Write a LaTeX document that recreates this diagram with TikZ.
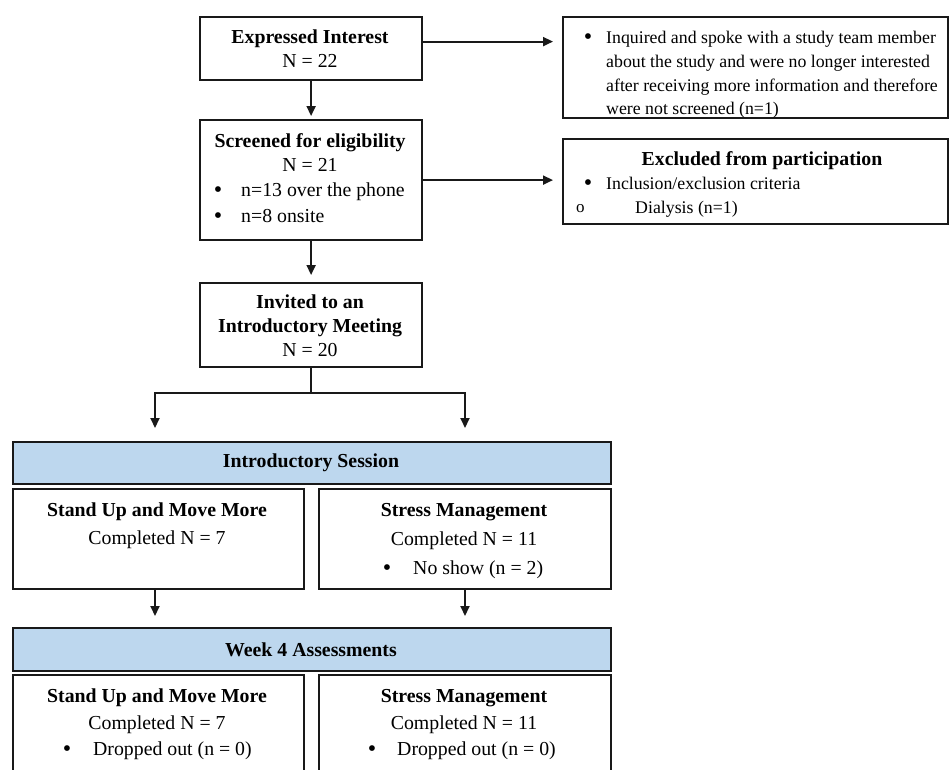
\documentclass[tikz,border=0pt]{standalone}
\usepackage{fontspec}
\setmainfont{Liberation Serif}
\usetikzlibrary{arrows.meta,calc}
\definecolor{bandblue}{RGB}{189,215,238}
\tikzset{
  box/.style={draw=black!90, line width=2.2pt, anchor=north west, inner sep=0pt},
  band/.style={box, fill=bandblue},
  txt/.style={anchor=base, inner sep=0pt, font=\fontsize{19.8}{23.8}\selectfont},
  txtw/.style={txt, anchor=base west},
  hd/.style={txt, font=\fontsize{19.8}{23.8}\selectfont\bfseries},
  dot/.style={txt, font=\fontsize{24}{24}\selectfont},
  note/.style={anchor=base west, inner sep=0pt, font=\fontsize{17.8}{21.4}\selectfont},
  link/.style={line width=1.9pt, draw=black!90},
  arr/.style={link, -{Triangle[length=10pt,width=9pt]}},
}
\begin{document}
\begin{tikzpicture}[x=1pt,y=-1pt]
\path[use as bounding box] (0,0) rectangle (950,769);
\clip (0,0) rectangle (950,769);
\node[box, minimum width=222pt, minimum height=63pt] (ei) at (199,16) {};
\node[box, minimum width=222pt, minimum height=120pt] (scr) at (199,119) {};
\node[box, minimum width=222pt, minimum height=84pt] (inv) at (199,282) {};
\node[box, minimum width=385pt, minimum height=101pt] (nosc) at (562,16) {};
\node[box, minimum width=385pt, minimum height=85pt] (excl) at (562,138) {};
\node[band, minimum width=598pt, minimum height=42pt] (band1) at (12,441) {};
\node[box, minimum width=291pt, minimum height=100pt] (summ1) at (12,488) {};
\node[box, minimum width=292pt, minimum height=100pt] (stm1) at (318,488) {};
\node[band, minimum width=598pt, minimum height=43pt] (band2) at (12,627) {};
\node[box, minimum width=291pt, minimum height=120pt] (summ2) at (12,674) {};
\node[box, minimum width=292pt, minimum height=120pt] (stm2) at (318,674) {};
\node[hd] (ei-a) at (310,43) {Expressed Interest};
\node[txt] (ei-b) at (310,67) {N = 22};
\node[hd] (scr-a) at (310,147) {Screened for eligibility};
\node[txt] (scr-b) at (310,171) {N = 21};
\node[dot] (scr-c) at (218,197) {•};
\node[txtw] (scr-d) at (241,196) {n=13 over the phone};
\node[dot] (scr-e) at (218,223) {•};
\node[txtw] (scr-f) at (241,222) {n=8 onsite};
\node[hd] (inv-a) at (310,308) {Invited to an};
\node[hd] (inv-b) at (310,332) {Introductory Meeting};
\node[txt] (inv-c) at (310,356) {N = 20};
\node[dot] (nosc-a) at (588,44) {•};
\node[note] (nosc-b) at (606,43) {Inquired and spoke with a study team member};
\node[note] (nosc-c) at (606,67) {about the study and were no longer interested};
\node[note] (nosc-d) at (606,91) {after receiving more information and therefore};
\node[note] (nosc-e) at (606,114) {were not screened (n=1)};
\node[hd] (excl-a) at (762,165) {Excluded from participation};
\node[dot] (excl-b) at (588,190) {•};
\node[note] (excl-c) at (606,189) {Inclusion/exclusion criteria};
\node[note, font=\fontsize{17}{17}\selectfont] (excl-d) at (576,212) {o};
\node[note] (excl-e) at (635,213) {Dialysis (n=1)};
\node[hd] (band1-a) at (311,467) {Introductory Session};
\node[hd] (summ1-a) at (157,516) {Stand Up and Move More};
\node[txt] (summ1-b) at (157,544) {Completed N = 7};
\node[hd] (stm1-a) at (464,516) {Stress Management};
\node[txt] (stm1-b) at (464,545) {Completed N = 11};
\node[dot] (stm1-c) at (387,575) {•};
\node[txtw] (stm1-d) at (413,574) {No show (n = 2)};
\node[hd] (band2-a) at (311,656) {Week 4 Assessments};
\node[hd] (summ2-a) at (157,702) {Stand Up and Move More};
\node[txt] (summ2-b) at (157,729) {Completed N = 7};
\node[dot] (summ2-c) at (67,756) {•};
\node[txtw] (summ2-d) at (93,755) {Dropped out (n = 0)};
\node[hd] (stm2-a) at (464,702) {Stress Management};
\node[txt] (stm2-b) at (464,729) {Completed N = 11};
\node[dot] (stm2-c) at (372,756) {•};
\node[txtw] (stm2-d) at (397,755) {Dropped out (n = 0)};
\coordinate (forkl) at (155,393);
\coordinate (forkr) at (465,393);
\draw[arr, shorten >=3pt] (ei) -- (scr);
\draw[arr, shorten >=7pt] (scr) -- (inv);
\draw[arr, shorten >=9pt] ($(ei.east)+(0,-7)$) -- ($(nosc.west |- ei.east)+(0,-7)$);
\draw[arr, shorten >=9pt] (scr.east) -- (scr.east -| excl.west);
\draw[arr, shorten >=13pt] (inv.south) |- (forkl) -- (forkl |- band1.north);
\draw[arr, shorten >=13pt] (inv.south |- forkr) -- (forkr) -- (forkr |- band1.north);
\draw[arr, shorten >=11pt] (forkl |- summ1.south) -- (forkl |- band2.north);
\draw[arr, shorten >=11pt] (forkr |- stm1.south) -- (forkr |- band2.north);
\end{tikzpicture}
\end{document}
